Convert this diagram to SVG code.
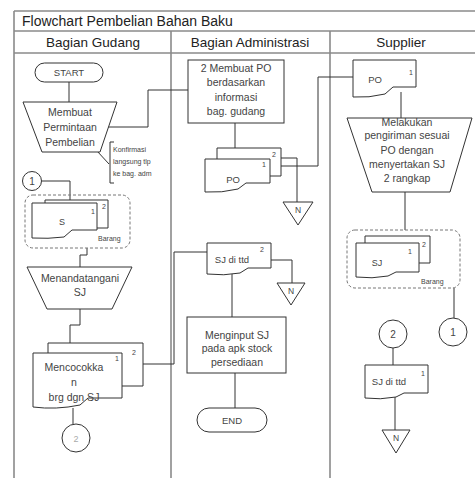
<svg xmlns="http://www.w3.org/2000/svg" width="475" height="480" viewBox="0 0 475 480">
<style>
.frame{fill:none;stroke:#8a8a8a;stroke-width:1.6}
.shape{fill:#fff;stroke:#333;stroke-width:1}
.line{fill:none;stroke:#333;stroke-width:1}
.dash{fill:none;stroke:#777;stroke-width:1;stroke-dasharray:3 2}
text{font-family:"Liberation Sans",Arial,sans-serif;fill:#444}
.t{font-size:10.5px;text-anchor:middle}
.s{font-size:7px}
.n{font-size:7px}
.h{font-size:13.5px;text-anchor:middle;fill:#222}
.title{font-size:14px;fill:#222}
</style>
<rect width="475" height="480" fill="#fff"/>
<g id="frame">
<path class="frame" d="M14,11 H475 M14,31 H475 M14,53 H475 M14,11 V478 M171,31 V478 M330,31 V478"/>
<text class="title" x="22" y="26">Flowchart Pembelian Bahan Baku</text>
<text class="h" x="93" y="47">Bagian Gudang</text>
<text class="h" x="250" y="47">Bagian Administrasi</text>
<text class="h" x="401" y="47">Supplier</text>
</g>
<g id="connectors">
<path class="line" d="M69,82 V102"/>
<path class="line" d="M108,127 H148 V90 H188"/>
<path class="line" d="M97,151 L109,164"/>
<path class="line" d="M114,142 H110 V183 H114"/>
<path class="line" d="M42,181 H70 V200"/>
<path class="line" d="M87,248 V255 H80 V267"/>
<path class="line" d="M80,309 V325 H70 V353"/>
<path class="line" d="M143,364 H174 V252 H207"/>
<path class="line" d="M73,408 V424"/>
<path class="line" d="M235,123 V159"/>
<path class="line" d="M281,158 H297 V202"/>
<path class="line" d="M281,166 H318 V77 H353"/>
<path class="line" d="M271,260 H292 V283"/>
<path class="line" d="M232,272 V317"/>
<path class="line" d="M235,373 V408"/>
<path class="line" d="M401,92 V118"/>
<path class="line" d="M405,192 V230"/>
<path class="line" d="M454,288 V318"/>
<path class="line" d="M393,348 V365"/>
<path class="line" d="M395,396 V430"/>
</g>
<g id="start">
<rect class="shape" x="35" y="63" width="68" height="19" rx="9.5"/>
<text class="t" x="69" y="76" style="font-size:9.5px">START</text>
</g>
<g id="membuat-permintaan">
<path class="shape" d="M23,102 H117 L100,152 H42 Z"/>
<text class="t" x="70" y="116">Membuat</text>
<text class="t" x="70" y="131">Permintaan</text>
<text class="t" x="70" y="146">Pembelian</text>
</g>
<g id="konfirmasi">
<text class="n" x="113" y="152">Konfirmasi</text>
<text class="n" x="113" y="164">langsung tlp</text>
<text class="n" x="113" y="176">ke bag. adm</text>
</g>
<g id="conn-1-left">
<circle class="shape" cx="32" cy="181" r="9.5"/>
<text class="t" x="32" y="185" style="font-size:10px">1</text>
</g>
<g id="doc-s">
<rect class="dash" x="25" y="195" width="105" height="53" rx="8"/>
<path class="shape" d="M45,203 V200 H108 V228 H97"/>
<path class="shape" d="M32,203 H97 V230 H72 L64,237 Q48,239 32,238 Z"/>
<text class="t" x="62" y="225" style="font-size:9px">S</text>
<text class="s" x="91" y="214">1</text>
<text class="s" x="102" y="209">2</text>
<text class="s" x="98" y="241">Barang</text>
</g>
<g id="menandatangani">
<path class="shape" d="M27,267 H132 L112,309 H47 Z"/>
<text class="t" x="80" y="282">Menandatangani</text>
<text class="t" x="80" y="296">SJ</text>
</g>
<g id="mencocokkan">
<path class="shape" d="M48,353 V343 H143 V386 H122"/>
<path class="shape" d="M33,353 H122 V398 H88 L80,405 Q56,410 33,407 Z"/>
<text class="s" x="132" y="355">2</text>
<text class="s" x="115" y="361">1</text>
<text class="t" x="74" y="371">Mencocokka</text>
<text class="t" x="74" y="386">n</text>
<text class="t" x="74" y="401">brg dgn SJ</text>
</g>
<g id="conn-2-left">
<circle class="shape" cx="76" cy="438" r="14"/>
<text class="t" x="76" y="442" style="font-size:9px;fill:#aaa">2</text>
</g>
<g id="membuat-po">
<rect class="shape" x="188" y="60" width="96" height="63"/>
<text class="t" x="236" y="72">2 Membuat PO</text>
<text class="t" x="236" y="86">berdasarkan</text>
<text class="t" x="236" y="101">informasi</text>
<text class="t" x="236" y="115">bag. gudang</text>
</g>
<g id="doc-po-admin">
<path class="shape" d="M217,159 V148 H281 V176 H270"/>
<path class="shape" d="M205,159 H270 V183 H246 L238,189 Q222,193 205,192 Z"/>
<text class="t" x="233" y="183" style="font-size:9.5px">PO</text>
<text class="s" x="272" y="157">2</text>
<text class="s" x="262" y="167">1</text>
</g>
<g id="n-admin-1">
<path class="shape" d="M283,202 H313 L298,225 Z"/>
<text class="t" x="298" y="213" style="font-size:8.5px">N</text>
</g>
<g id="sj-ttd-admin">
<path class="shape" d="M207,243 H271 V268 H248 L240,273 Q224,276 207,274 Z"/>
<text class="t" x="232" y="263" style="font-size:9.5px">SJ di ttd</text>
<text class="s" x="260" y="252">2</text>
</g>
<g id="n-admin-2">
<path class="shape" d="M277,283 H305 L291,305 Z"/>
<text class="t" x="291" y="294" style="font-size:8.5px">N</text>
</g>
<g id="menginput">
<rect class="shape" x="187" y="317" width="99" height="56"/>
<text class="t" x="237" y="339">Menginput SJ</text>
<text class="t" x="237" y="352">pada apk stock</text>
<text class="t" x="237" y="366">persediaan</text>
</g>
<g id="end">
<rect class="shape" x="197" y="408" width="70" height="24" rx="12"/>
<text class="t" x="232" y="424" style="font-size:9.5px">END</text>
</g>
<g id="doc-po-supplier">
<path class="shape" d="M353,60 H416 V87 H393 L385,94 Q369,98 353,97 Z"/>
<text class="t" x="375" y="83" style="font-size:9.5px">PO</text>
<text class="s" x="409" y="75">1</text>
</g>
<g id="melakukan-pengiriman">
<path class="shape" d="M347,118 H472 L450,192 H372 Z"/>
<text class="t" x="407" y="126">Melakukan</text>
<text class="t" x="407" y="139">pengiriman sesuai</text>
<text class="t" x="407" y="154">PO dengan</text>
<text class="t" x="407" y="168">menyertakan SJ</text>
<text class="t" x="407" y="182">2 rangkap</text>
</g>
<g id="doc-sj-supplier">
<rect class="dash" x="347" y="230" width="113" height="58" rx="8"/>
<path class="shape" d="M365,243 V236 H430 V263 H419"/>
<path class="shape" d="M356,243 H419 V272 H396 L388,276 Q372,279 356,277 Z"/>
<text class="t" x="377" y="266" style="font-size:9px">SJ</text>
<text class="s" x="408" y="254">1</text>
<text class="s" x="422" y="247">2</text>
<text class="s" x="421" y="284">Barang</text>
</g>
<g id="conn-2-supplier">
<circle class="shape" cx="393" cy="334" r="14"/>
<text class="t" x="393" y="338" style="font-size:10px">2</text>
</g>
<g id="conn-1-supplier">
<circle class="shape" cx="453" cy="332" r="14"/>
<text class="t" x="453" y="336" style="font-size:10px">1</text>
</g>
<g id="sj-ttd-supplier">
<path class="shape" d="M365,365 H428 V393 H404 L396,397 Q380,400 365,398 Z"/>
<text class="t" x="389" y="385" style="font-size:9.5px">SJ di ttd</text>
<text class="s" x="421" y="376">1</text>
</g>
<g id="n-supplier">
<path class="shape" d="M382,430 H410 L396,453 Z"/>
<text class="t" x="396" y="441" style="font-size:8.5px">N</text>
</g>
</svg>
